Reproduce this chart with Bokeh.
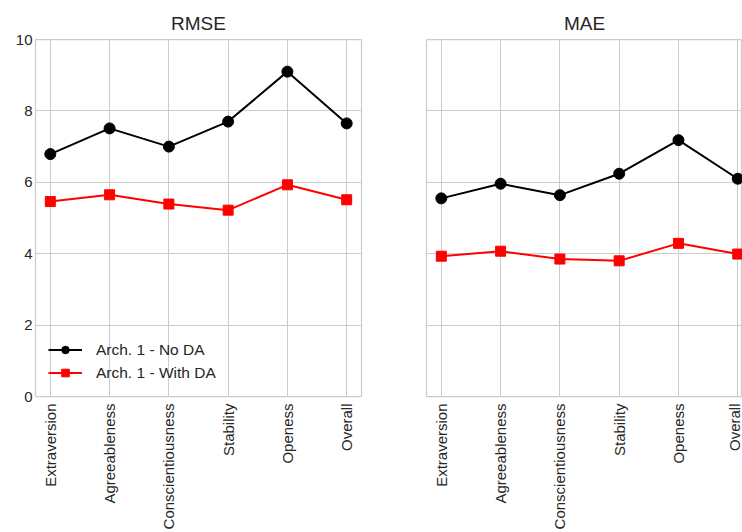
import math
from bokeh.plotting import figure
from bokeh.layouts import row
from bokeh.models import FixedTicker, Legend, LegendItem
from bokeh.embed import file_html
from bokeh.resources import INLINE

categories = ["Extraversion", "Agreeableness", "Conscientiousness", "Stability", "Openess", "Overall"]
rmse_no_da = [6.79, 7.51, 7.00, 7.70, 9.10, 7.65]
rmse_with_da = [5.46, 5.65, 5.39, 5.22, 5.93, 5.51]
mae_no_da = [5.55, 5.96, 5.64, 6.24, 7.18, 6.10]
mae_with_da = [3.93, 4.07, 3.85, 3.80, 4.29, 3.99]
y_ticks = [0, 2, 4, 6, 8, 10]
series_labels = ["Arch. 1 - No DA", "Arch. 1 - With DA"]
titles = ["RMSE", "MAE"]

FONT = "Liberation Sans"
TEXT = "#262626"
GRID = "#cccccc"
xs = list(range(len(categories)))


def style(p, show_y):
    p.background_fill_color = "white"
    p.border_fill_color = "white"
    p.outline_line_color = GRID
    p.outline_line_width = 1.25
    p.title.align = "center"
    p.title.text_font = FONT
    p.title.text_font_size = "19px"
    p.title.text_font_style = "normal"
    p.title.text_color = TEXT
    p.title.standoff = 12
    for g in (p.xgrid, p.ygrid):
        g.grid_line_color = GRID
        g.grid_line_width = 1
    p.xaxis.ticker = FixedTicker(ticks=xs)
    p.xaxis.major_label_overrides = {i: c for i, c in enumerate(categories)}
    p.xaxis.major_label_orientation = math.pi / 2
    p.yaxis.ticker = FixedTicker(ticks=y_ticks)
    for ax in (p.xaxis[0], p.yaxis[0]):
        ax.axis_line_color = None
        ax.major_tick_line_color = None
        ax.minor_tick_line_color = None
        ax.major_tick_out = 0
        ax.major_tick_in = 0
        ax.minor_tick_out = 0
        ax.major_label_text_font = FONT
        ax.major_label_text_font_size = "15px"
        ax.major_label_text_color = TEXT
    p.xaxis.major_label_standoff = 7
    p.yaxis.major_label_standoff = 3
    if not show_y:
        p.yaxis.major_label_text_alpha = 0


def make(title, no_da, with_da, width, x_end, left, right, legend):
    p = figure(width=width, height=532, x_range=(-0.25, x_end), y_range=(0, 10),
               min_border_left=left, min_border_right=right, min_border_top=39,
               min_border_bottom=0, output_backend="svg", toolbar_location=None,
               title=title)
    style(p, legend)
    l1 = p.line(xs, no_da, line_color="black", line_width=2)
    s1 = p.scatter(xs, no_da, marker="circle", size=11, fill_color="black", line_color="black")
    l2 = p.line(xs, with_da, line_color="red", line_width=2)
    s2 = p.scatter(xs, with_da, marker="square", size=10, fill_color="red", line_color="red")
    if legend:
        lg = Legend(items=[LegendItem(label=series_labels[0], renderers=[l1, s1]),
                           LegendItem(label=series_labels[1], renderers=[l2, s2])],
                    location=(13, 14), margin=0, padding=0, spacing=4,
                    glyph_width=34, glyph_height=19, label_height=19,
                    label_standoff=14, background_fill_alpha=0,
                    border_line_color=None, label_text_font=FONT,
                    label_text_font_size="15.5px", label_text_color=TEXT)
        p.add_layout(lg, "center")
    return p


p1 = make(titles[0], rmse_no_da, rmse_with_da, 388, 5.25, 35, 27, True)
p2 = make(titles[1], mae_no_da, mae_with_da, 354, 5.08, 38, 0, False)

layout = row(p1, p2)
open("out.html", "w").write(file_html(layout, INLINE))
